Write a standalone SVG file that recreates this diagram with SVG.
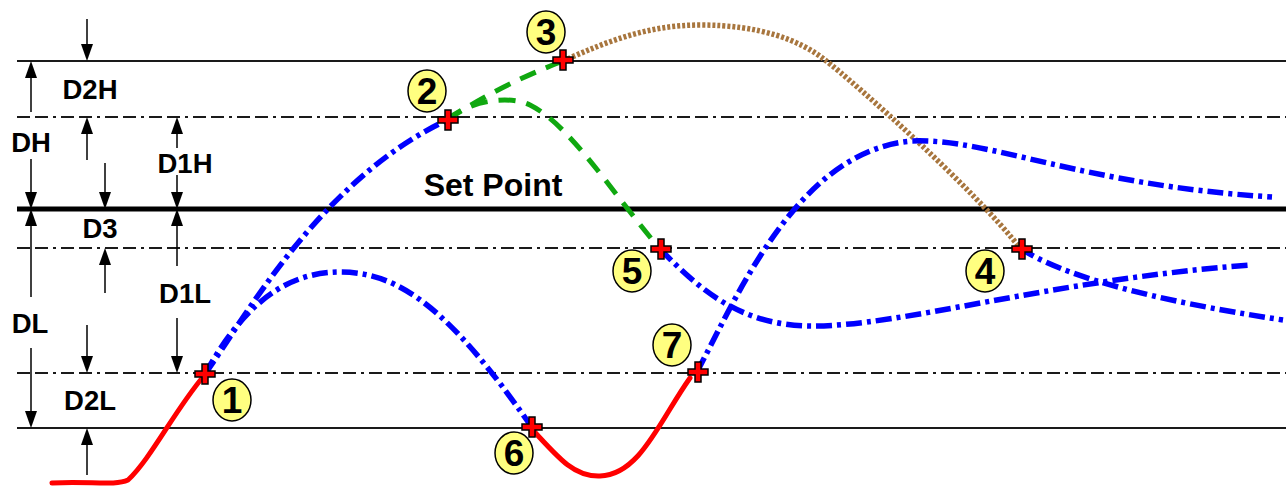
<svg xmlns="http://www.w3.org/2000/svg" width="1286" height="487" viewBox="0 0 1286 487">
<defs>
<style>
.lbl{font-family:"Liberation Sans",Arial,sans-serif;font-weight:bold;font-size:27.5px;fill:#000;text-anchor:middle}
.sp{font-family:"Liberation Sans",Arial,sans-serif;font-weight:bold;font-size:32px;fill:#000;text-anchor:middle}
.num{font-family:"Liberation Sans",Arial,sans-serif;font-weight:bold;font-size:37px;fill:#000;text-anchor:middle}
.solid{stroke:#1a1a1a;stroke-width:2;fill:none}
.dd{stroke:#1a1a1a;stroke-width:2;fill:none;stroke-dasharray:13 5 13 5 3 5}
.ar{stroke:#000;stroke-width:1.5;fill:none}
.blue{stroke:#0000ff;stroke-width:5.5;fill:none;stroke-dasharray:16 5 4 5}
.green{stroke:#10a810;stroke-width:5;fill:none;stroke-dasharray:17 11}
.brown{stroke:#a8763e;stroke-width:5.5;fill:none;stroke-dasharray:3 2}
.red{stroke:#ff0000;stroke-width:5;fill:none;stroke-linecap:round}
.ell{fill:#ffff80;stroke:#000;stroke-width:1.5}
.cross{fill:#ff0000;stroke:#000;stroke-width:1.5}
</style>
<path id="cr" d="M-3,-10 h6 v7 h7 v6 h-7 v7 h-6 v-7 h-7 v-6 h7 z"/>
<path id="hd" d="M0,0 L-6,-17 L6,-17 Z"/>
</defs>
<rect width="1286" height="487" fill="#fff"/>
<g id="levels">
<line class="solid" x1="17" y1="61" x2="1286" y2="61"/>
<line class="dd" x1="17" y1="117" x2="1286" y2="117"/>
<line x1="17" y1="209" x2="1286" y2="209" stroke="#000" stroke-width="5"/>
<line class="dd" x1="17" y1="248" x2="1286" y2="248"/>
<line class="dd" x1="17" y1="373" x2="1286" y2="373"/>
<line class="solid" x1="17" y1="428" x2="1286" y2="428"/>
</g>
<g id="dimension-arrows">
<line class="ar" x1="87" y1="19" x2="87" y2="50"/><use href="#hd" transform="translate(87,61)"/>
<line class="ar" x1="31" y1="112" x2="31" y2="72"/><use href="#hd" transform="translate(31,61) rotate(180)"/>
<line class="ar" x1="31" y1="159" x2="31" y2="198"/><use href="#hd" transform="translate(31,209)"/>
<line class="ar" x1="87" y1="160" x2="87" y2="128"/><use href="#hd" transform="translate(87,117) rotate(180)"/>
<line class="ar" x1="105" y1="163" x2="105" y2="198"/><use href="#hd" transform="translate(105,209)"/>
<line class="ar" x1="177" y1="148" x2="177" y2="128"/><use href="#hd" transform="translate(177,117) rotate(180)"/>
<line class="ar" x1="177" y1="175" x2="177" y2="198"/><use href="#hd" transform="translate(177,209)"/>
<line class="ar" x1="31" y1="297" x2="31" y2="220"/><use href="#hd" transform="translate(31,209) rotate(180)"/>
<line class="ar" x1="31" y1="348" x2="31" y2="417"/><use href="#hd" transform="translate(31,428)"/>
<line class="ar" x1="105" y1="293" x2="105" y2="259"/><use href="#hd" transform="translate(105,248) rotate(180)"/>
<line class="ar" x1="177" y1="266" x2="177" y2="220"/><use href="#hd" transform="translate(177,209) rotate(180)"/>
<line class="ar" x1="177" y1="318" x2="177" y2="362"/><use href="#hd" transform="translate(177,373)"/>
<line class="ar" x1="87" y1="325" x2="87" y2="362"/><use href="#hd" transform="translate(87,373)"/>
<line class="ar" x1="87" y1="475" x2="87" y2="439"/><use href="#hd" transform="translate(87,428) rotate(180)"/>
</g>
<g id="labels">
<text class="lbl" x="90" y="99">D2H</text>
<text class="lbl" x="31" y="152">DH</text>
<text class="lbl" x="185" y="173">D1H</text>
<text class="lbl" x="100" y="238">D3</text>
<text class="lbl" x="30" y="333">DL</text>
<text class="lbl" x="185" y="303">D1L</text>
<text class="lbl" x="90" y="410">D2L</text>
<text class="sp" x="493" y="196">Set Point</text>
</g>
<g id="connectors">
<path class="red" d="M52,483 C90,481 115,486 128,480 C150,460 175,410 203,377"/>
<path class="blue" d="M205,374 C245,318 320,180 447,120"/>
<path class="blue" d="M205,374 C235,320 275,272 340,272 C400,272 450,310 531,426"/>
<path class="green" d="M447,120 Q500,85 563,61"/>
<path class="green" d="M447,120 C470,100 510,95 530,105 C570,125 610,190 660,249"/>
<path class="brown" d="M563,61 C610,40 650,25 700,25 C760,25 800,40 825,60 C855,83 975,190 1020,248"/>
<path class="blue" d="M660,249 C700,290 740,325 810,326 C900,327 1050,280 1250,265"/>
<path class="red" d="M531,428 C560,460 575,477 600,476 C640,475 660,420 690,378"/>
<path class="blue" d="M697,372 C740,290 800,150 912,141 C990,138 1080,185 1272,197"/>
<path class="blue" d="M1020,248 C1060,275 1150,300 1283,320"/>
</g>
<g id="p1"><use href="#cr" class="cross" transform="translate(205,374)"/><ellipse class="ell" cx="232" cy="400" rx="19" ry="21"/><text class="num" x="232" y="413">1</text></g>
<g id="p2"><use href="#cr" class="cross" transform="translate(448,120)"/><ellipse class="ell" cx="427" cy="91" rx="19" ry="21"/><text class="num" x="427" y="104">2</text></g>
<g id="p3"><use href="#cr" class="cross" transform="translate(563,60)"/><ellipse class="ell" cx="546" cy="32" rx="19" ry="21"/><text class="num" x="546" y="45">3</text></g>
<g id="p4"><use href="#cr" class="cross" transform="translate(1022,249)"/><ellipse class="ell" cx="985" cy="271" rx="19" ry="21"/><text class="num" x="985" y="284">4</text></g>
<g id="p5"><use href="#cr" class="cross" transform="translate(661,249)"/><ellipse class="ell" cx="632" cy="271" rx="19" ry="21"/><text class="num" x="632" y="284">5</text></g>
<g id="p6"><use href="#cr" class="cross" transform="translate(532,427)"/><ellipse class="ell" cx="514" cy="453" rx="19" ry="21"/><text class="num" x="514" y="466">6</text></g>
<g id="p7"><use href="#cr" class="cross" transform="translate(698,372)"/><ellipse class="ell" cx="672" cy="345" rx="19" ry="21"/><text class="num" x="672" y="358">7</text></g>
</svg>
